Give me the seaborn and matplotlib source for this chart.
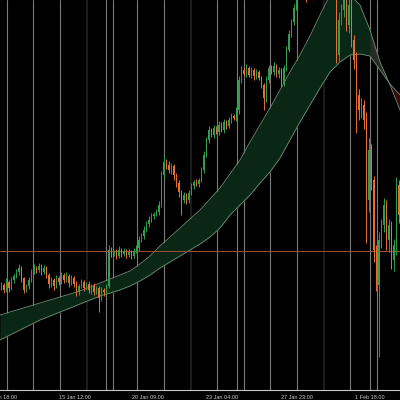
import numpy as np
import pandas as pd
import seaborn as sns
import matplotlib.pyplot as plt

# ---- data (price units, one entry per bar) ----
closes = [
    115, 110, 118, 112, 120, 124, 128, 132, 122, 110,
    114, 120, 128, 132, 130, 134, 128, 132, 125, 116,
    120, 114, 122, 118, 125, 120, 124, 117, 122, 116,
    108, 114, 118, 112, 116, 110, 114, 108, 112, 102,
    110, 108, 114, 150, 146, 148, 144, 150, 146, 149,
    145, 148, 144, 149, 152, 160, 164, 170, 176, 180,
    184, 186, 188, 195, 225, 238, 235, 230, 234, 225,
    217, 208, 200, 205, 200, 207, 214, 218, 216, 220,
    230, 245, 260, 270, 265, 272, 268, 275, 270, 278,
    274, 280, 284, 282, 290, 320, 330, 326, 332, 325,
    330, 324, 328, 322, 315, 302, 320, 332, 328, 334,
    326, 330, 316, 332, 350, 366, 378, 392, 405, 420,
    425, 430, 415, 430, 440, 435, 445, 440, 450, 445,
    440, 450, 435, 440, 345, 380, 390, 400, 375, 395,
    360, 340, 305, 290, 295, 280, 200, 250, 220, 150,
    115, 160, 175, 195, 160, 175, 140, 155, 215, 185,
]
first_open = 112

wick_up = [
    3, 2, 4, 2, 3, 2, 3, 4, 2, 1,
    2, 3, 3, 4, 2, 3, 2, 3, 2, 2,
    3, 2, 3, 2, 3, 2, 4, 2, 3, 2,
    3, 2, 3, 2, 2, 3, 2, 3, 2, 2,
    3, 2, 2, 5, 3, 2, 3, 4, 2, 3,
    2, 3, 2, 3, 3, 4, 3, 4, 3, 4,
    3, 2, 3, 4, 4, 7, 3, 4, 3, 2,
    2, 3, 2, 3, 2, 3, 3, 2, 3, 2,
    3, 4, 3, 4, 2, 3, 2, 4, 3, 3,
    2, 3, 3, 2, 3, 4, 4, 3, 4, 2,
    3, 2, 3, 2, 2, 2, 4, 3, 3, 4,
    2, 3, 2, 3, 4, 4, 3, 4, 4, 5,
    4, 5, 4, 5, 4, 4, 5, 4, 5, 4,
    4, 5, 4, 4, 6, 8, 6, 7, 5, 9,
    6, 5, 8, 6, 7, 5, 8, 12, 6, 4,
    5, 8, 6, 7, 5, 6, 4, 6, 8, 5,
]
wick_dn = [
    2, 3, 2, 4, 2, 3, 2, 3, 4, 3,
    2, 3, 2, 2, 3, 2, 3, 2, 3, 4,
    3, 4, 2, 3, 2, 3, 2, 4, 2, 3,
    4, 3, 2, 3, 2, 3, 4, 3, 2, 14,
    3, 4, 3, 2, 3, 2, 3, 2, 3, 2,
    3, 2, 3, 2, 2, 3, 2, 3, 2, 3,
    2, 3, 2, 3, 2, 3, 4, 3, 4, 5,
    4, 5, 15, 3, 4, 3, 2, 3, 2, 3,
    2, 3, 2, 3, 2, 3, 2, 3, 2, 3,
    3, 2, 3, 2, 3, 4, 3, 2, 3, 2,
    3, 4, 3, 2, 3, 12, 4, 3, 2, 3,
    3, 4, 3, 2, 3, 2, 3, 3, 2, 3,
    3, 2, 17, 3, 4, 3, 2, 4, 3, 2,
    3, 4, 3, 2, 8, 6, 5, 7, 6, 8,
    7, 9, 38, 10, 8, 9, 43, 12, 10, 12,
    6, 72, 8, 7, 10, 12, 9, 11, 10, 8,
]

# moving averages, sampled every 4 bars
fast_ma = [85, 88, 91, 94, 97, 100, 103, 106, 109, 113, 117, 121, 125, 129,
           136, 144, 154, 163, 172, 181, 190, 201, 212, 226, 240, 258, 275,
           292, 310, 328, 345, 364, 385, 405, 415, 405, 395, 370, 338, 315, 290]
slow_ma = [60, 65, 70, 75, 80, 84, 88, 92, 96, 100, 104, 107, 110, 114,
           119, 125, 132, 138, 144, 150, 156, 163, 172, 185, 195, 205, 217,
           228, 242, 260, 278, 295, 312, 328, 338, 345, 346, 344, 330, 316, 305]

h_level = 149

# period separators (bar index) and which are dim
separators = [2.3, 12.7, 23.5, 34.3, 41.9, 44.7, 54.3, 65.1, 75.9, 86.3,
              94.3, 97.1, 107.5, 118.3, 129.1, 139.5, 147.5, 150.3]
dim_seps = [34.3, 75.9, 129.1]

tick_pos = [-0.1, 29.5, 58.7, 88.3, 118.3, 147.5]
tick_labels = ['13 Jan 18:00', '15 Jan 12:00', '20 Jan 09:00',
               '23 Jan 04:00', '27 Jan 23:00', '1 Feb 18:00']

# ---- build frame ----
df = pd.DataFrame({'close': closes, 'wu': wick_up, 'wd': wick_dn})
df['open'] = [first_open] + closes[:-1]
df['high'] = df[['open', 'close']].max(axis=1) + df['wu']
df['low'] = df[['open', 'close']].min(axis=1) - df['wd']
df['idx'] = np.arange(len(df))
band = pd.DataFrame({'x': np.arange(-0.5, len(df) + 0.5, 4),
                     'fast': fast_ma, 'slow': slow_ma})
band['slope'] = np.gradient(band['slow'])

sns.set_style('dark', {'axes.facecolor': '#000000', 'figure.facecolor': '#000000'})
plt.rcParams['font.family'] = ['Liberation Sans', 'DejaVu Sans']

fig = plt.figure(figsize=(4, 4), dpi=100)
ax = fig.add_axes([0, 10 / 400, 1, 390 / 400])
ax.set_facecolor('#000000')

for s in separators:
    dim = s in dim_seps
    ax.axvline(s, color='#1c1c1c' if dim else '#7a7a7a',
               lw=1.4 if dim else 0.8, zorder=1)

# band: green while fast above, grey once the slow line turns down, red after cross
above = band['fast'] >= band['slow']
ax.fill_between(band['x'], band['fast'], band['slow'], where=above,
                interpolate=True, color='#0a2614', lw=0, zorder=2)
ax.fill_between(band['x'], band['fast'], band['slow'],
                where=above & (band['slope'] < -0.5), interpolate=True,
                color='#2a2a2a', lw=0, zorder=2)
ax.fill_between(band['x'], band['fast'], band['slow'], where=~above,
                interpolate=True, color='#3a0b0b', lw=0, zorder=2)
sns.lineplot(data=band, x='x', y='fast', ax=ax, color='#6f8f79', lw=0.6, zorder=3)
sns.lineplot(data=band, x='x', y='slow', ax=ax, color='#6f8f79', lw=0.6, zorder=3)

ax.axhline(h_level, color='#9a5035', lw=0.7, zorder=3)

# candles
up = df['close'] >= df['open']
colors = np.where(up, '#2f9e4f', '#e5702f')
ax.vlines(df['idx'], df['low'], df['high'], colors=colors, lw=0.7, zorder=4)
ax.bar(df['idx'], (df['close'] - df['open']).abs().clip(lower=0.8),
       bottom=df[['open', 'close']].min(axis=1), width=0.6,
       color=colors, lw=0, zorder=5)

ax.set_xlim(-0.5, len(df) - 0.5)
ax.set_ylim(10, 400)
ax.set_xticks(tick_pos)
ax.set_xticklabels(tick_labels)
ax.tick_params(axis='x', colors='#c8c8c8', labelsize=4, length=2.5, width=0.6, pad=1)
ax.tick_params(axis='y', left=False, labelleft=False)
ax.set_xlabel('')
ax.set_ylabel('')
ax.grid(False)
for side in ['top', 'left', 'right']:
    ax.spines[side].set_visible(False)
ax.spines['bottom'].set_color('#c8c8c8')
ax.spines['bottom'].set_linewidth(0.8)

fig.savefig('out.png', dpi=100, facecolor='#000000')
